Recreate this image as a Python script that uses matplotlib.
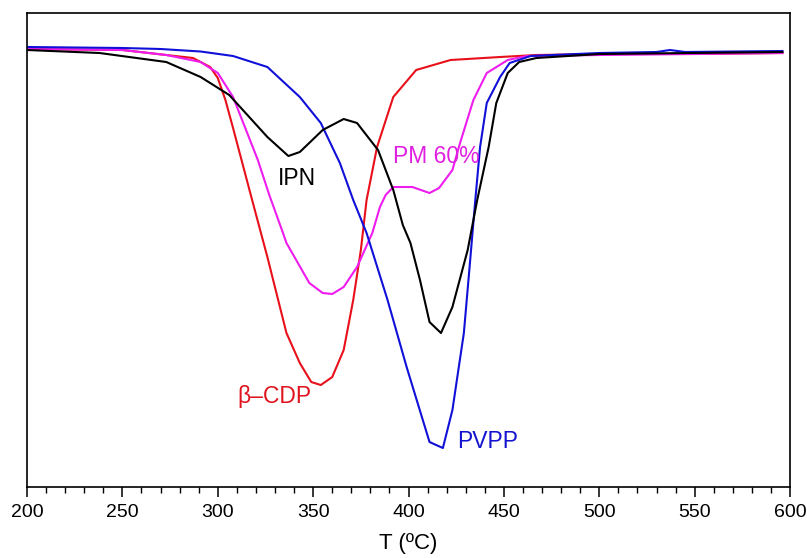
from matplotlib import pyplot as plt
from matplotlib.ticker import MultipleLocator

plt.rcParams['font.family'] = ['Liberation Sans', 'DejaVu Sans']

# DTG curves, values in arbitrary units
t_cdp = [200, 250, 273, 287, 296, 300, 304, 308, 318, 326, 336, 343, 349, 354,
         360, 366, 371, 375, 378, 383.5, 392, 404, 422, 448, 467, 500, 550, 596]
dtg_cdp = [0.01, 0.0, -0.05, -0.08, -0.17, -0.28, -0.50, -0.78, -1.50, -2.07,
           -2.83, -3.13, -3.32, -3.35, -3.27, -3.00, -2.50, -2.00, -1.50, -0.97,
           -0.47, -0.20, -0.10, -0.07, -0.05, -0.04, -0.04, -0.03]

t_pm = [200, 250, 273, 291, 300, 308, 321, 327, 334, 336, 348, 355, 360, 366,
        373, 381, 385, 388, 392, 402, 411, 416, 423, 427, 434, 441, 452, 462,
        500, 596]
dtg_pm = [0.01, 0.0, -0.05, -0.12, -0.23, -0.47, -1.10, -1.45, -1.82, -1.93,
          -2.33, -2.43, -2.44, -2.37, -2.17, -1.83, -1.57, -1.45, -1.37, -1.37,
          -1.43, -1.38, -1.20, -0.93, -0.50, -0.23, -0.10, -0.06, -0.05, -0.03]

t_pvpp = [200, 250, 270, 291, 308, 326, 343, 354, 364, 371, 378, 389, 399, 411,
          418, 423, 429, 432, 435, 437.5, 441, 448, 453, 464, 500, 530, 537,
          545, 596]
dtg_pvpp = [0.03, 0.02, 0.01, -0.015, -0.06, -0.17, -0.47, -0.73, -1.13, -1.50,
            -1.83, -2.50, -3.17, -3.92, -3.98, -3.60, -2.83, -2.17, -1.50,
            -0.97, -0.53, -0.27, -0.13, -0.06, -0.03, -0.02, 0.0, -0.02, -0.01]

t_ipn = [200, 238, 273, 291, 306, 326, 337, 343, 355, 366, 373, 384, 392, 397,
         401, 406, 411, 417, 423, 431, 436, 442, 446, 452, 458, 467, 500, 596]
dtg_ipn = [0.0, -0.03, -0.12, -0.27, -0.45, -0.87, -1.06, -1.02, -0.80, -0.69,
           -0.73, -1.00, -1.40, -1.75, -1.93, -2.30, -2.72, -2.83, -2.57, -2.00,
           -1.50, -0.97, -0.53, -0.23, -0.12, -0.08, -0.04, -0.02]

fig = plt.figure(figsize=(8.07, 5.58), dpi=100)
ax = fig.add_axes([0.0335, 0.1272, 0.9455, 0.8495])

ax.plot(t_cdp, dtg_cdp, color='#e8101a', lw=1.5)
ax.plot(t_pm, dtg_pm, color='#ee1cee', lw=1.5)
ax.plot(t_pvpp, dtg_pvpp, color='#1010d8', lw=1.5)
ax.plot(t_ipn, dtg_ipn, color='black', lw=1.5)

# curve labels
ax.text(331.6, -1.35, 'IPN', color='black', fontsize=16.5, va='baseline')
ax.text(391.9, -1.13, 'PM 60%', color='#e020e0', fontsize=16.5, va='baseline')
ax.text(310.1, -3.53, '\u03b2\u2013CDP', color='#e0141e', fontsize=16.5, va='baseline')
ax.text(425.4, -3.98, 'PVPP', color='#1414d0', fontsize=16.5, va='baseline')

ax.set_xlim(200, 600)
ax.set_ylim(-4.37, 0.37)
ax.xaxis.set_major_locator(MultipleLocator(50))
ax.xaxis.set_minor_locator(MultipleLocator(10))
ax.tick_params(axis='x', which='major', direction='out', length=7, width=1.1,
               labelsize=14, pad=5)
ax.tick_params(axis='x', which='minor', direction='out', length=4, width=1.0)
ax.set_yticks([])
for s in ax.spines.values():
    s.set_linewidth(1.2)

ax.set_xlabel('T (\u00baC)', fontsize=16, labelpad=9)

plt.savefig('out.png', dpi=100)
